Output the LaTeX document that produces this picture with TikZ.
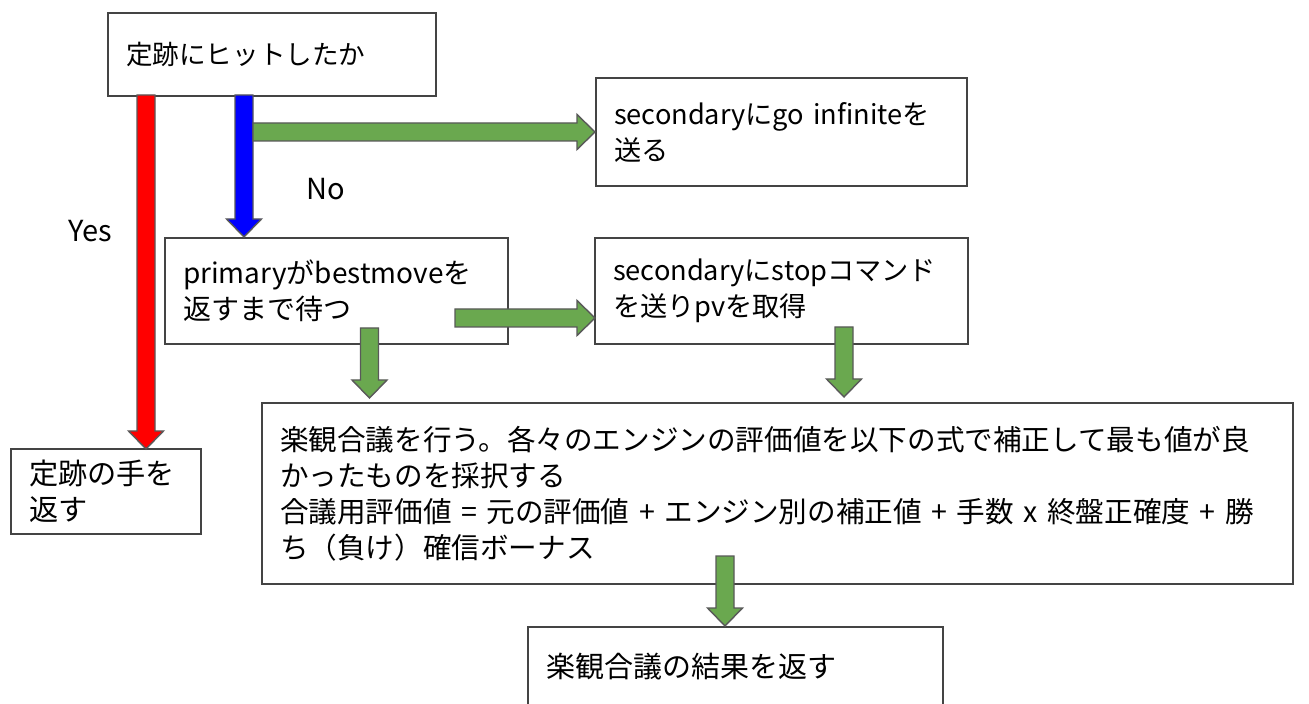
\documentclass[tikz,border=0pt]{standalone}
\usepackage{fontspec}
\setmainfont{Noto Sans CJK JP}
\usetikzlibrary{calc}
\definecolor{arrgreen}{HTML}{6AA84F}
\definecolor{edgegray}{HTML}{595959}
\definecolor{boxgray}{HTML}{444444}
\newcommand\blockdown[3]{\path[blockarrow,fill=#1] let \p1=(#2), \p2=(#3) in
  (\x1-4.5pt,\y1) -- (\x1+4.5pt,\y1) -- (\x1+4.5pt,\y2+9pt) -- (\x1+8.75pt,\y2+9pt)
  -- (\x1,\y2) -- (\x1-8.75pt,\y2+9pt) -- (\x1-4.5pt,\y2+9pt) -- cycle;}
\newcommand\blockright[3]{\path[blockarrow,fill=#1] let \p1=(#2), \p2=(#3) in
  (\x1,\y1+4.5pt) -- (\x2-9pt,\y1+4.5pt) -- (\x2-9pt,\y1+8.75pt) -- (\x2,\y1)
  -- (\x2-9pt,\y1-8.75pt) -- (\x2-9pt,\y1-4.5pt) -- (\x1,\y1-4.5pt) -- cycle;}
\begin{document}
\begin{tikzpicture}[x=0.5pt,y=-0.5pt,
  fs/.style={font=\fontsize{#1}{18pt}\selectfont},
  box/.style={draw=boxgray, line width=1pt, fill=white, align=left,
    anchor=north west, inner xsep=9pt, inner ysep=0pt},
  blockarrow/.style={draw=edgegray, line width=0.7pt, line join=miter}]
\useasboundingbox (0,0) rectangle (1309,704);
\fill[white] (0,0) rectangle (1309,704);

% boxes
\node[box, fs=13.3pt, text width=146pt, minimum height=41.5pt] (A) at (107,12) {定跡にヒットしたか};
\node[box, fs=13.6pt, text width=167.5pt, minimum height=54pt] (B) at (595,77) {\mbox{secondaryにgo infiniteを}\\送る};
\node[box, fs=14pt, text width=153.5pt, minimum height=53pt] (C) at (164,237) {primaryがbestmoveを\\返すまで待つ};
\node[box, fs=13.6pt, text width=168.5pt, minimum height=53pt] (D) at (594,237) {secondaryにstopコマンド\\を送りpvを取得};
\node[box, fs=14.6pt, text width=77pt, minimum height=42.5pt] (E) at (10,448) {定跡の手を\\返す};
\node[box, fs=14.3pt, text width=497.5pt, minimum height=90.5pt] (F) at (261,402) {楽観合議を行う。各々のエンジンの評価値を以下の式で補正して最も値が良\\かったものを採択する\\\mbox{合議用評価値 = 元の評価値 + エンジン別の補正値 + 手数 x 終盤正確度 + 勝}\\ち（負け）確信ボーナス};
\node[box, fs=14.5pt, text width=189.5pt, minimum height=40pt] (G) at (527,626) {楽観合議の結果を返す};

% labels
\node[fs=14.5pt] (yes) at (90,231) {Yes};
\node[fs=14.5pt] (no) at (326,189) {No};

% arrow end points
\coordinate (rs) at (146,95);   \coordinate (rt) at (146,449);
\coordinate (bs) at (244,95);   \coordinate (bt) at (244,237);
\coordinate (g1s) at (253,132); \coordinate (g1t) at (595,132);
\coordinate (g2s) at (455,318); \coordinate (g2t) at (595,318);
\coordinate (g3s) at (369.5,328); \coordinate (g3t) at (369.5,398);
\coordinate (g4s) at (844,327); \coordinate (g4t) at (844,397);
\coordinate (g5s) at (725,556); \coordinate (g5t) at (725,626);

\blockdown{red}{rs}{rt}
\blockdown{blue}{bs}{bt}
\blockright{arrgreen}{g1s}{g1t}
\blockright{arrgreen}{g2s}{g2t}
\blockdown{arrgreen}{g3s}{g3t}
\blockdown{arrgreen}{g4s}{g4t}
\blockdown{arrgreen}{g5s}{g5t}
\end{tikzpicture}
\end{document}
